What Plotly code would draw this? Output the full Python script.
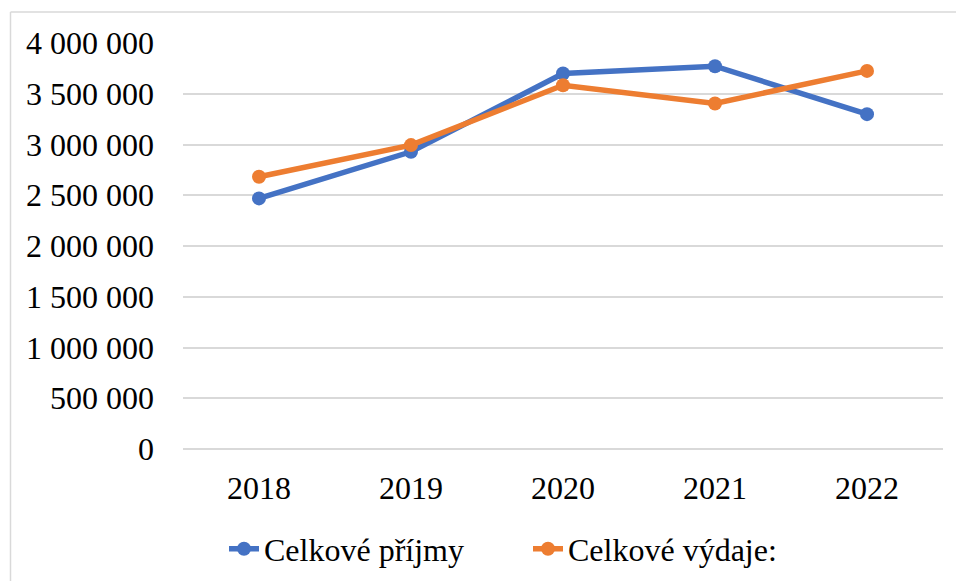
import plotly.graph_objects as go

years = ["2018", "2019", "2020", "2021", "2022"]
prijmy = [2469000, 2928000, 3699000, 3771000, 3299000]
vydaje = [2682000, 2994000, 3584000, 3404000, 3725000]
y_ticks = [0, 500000, 1000000, 1500000, 2000000, 2500000, 3000000, 3500000, 4000000]
y_labels = ["0", "500 000", "1 000 000", "1 500 000", "2 000 000", "2 500 000",
            "3 000 000", "3 500 000", "4 000 000"]

FONT = "Liberation Serif"

fig = go.Figure()
fig.add_trace(go.Scatter(x=years, y=prijmy, name="Celkové příjmy", mode="lines+markers",
                         line=dict(color="#4472C4", width=5.5),
                         marker=dict(size=14, color="#4472C4")))
fig.add_trace(go.Scatter(x=years, y=vydaje, name="Celkové výdaje:", mode="lines+markers",
                         line=dict(color="#ED7D31", width=5.5),
                         marker=dict(size=14, color="#ED7D31")))

fig.update_layout(
    width=956, height=581,
    margin=dict(l=183, r=13, t=43, b=132, autoexpand=False),
    paper_bgcolor="white", plot_bgcolor="white",
    font=dict(family=FONT, size=32, color="black"),
    xaxis=dict(type="category", range=[-0.5, 4.5], showgrid=False, zeroline=False,
               showline=False, ticks="", tickfont=dict(family=FONT, size=32),
               ticklabelstandoff=17),
    yaxis=dict(range=[0, 4000000], tickvals=y_ticks, ticktext=y_labels,
               showgrid=True, gridcolor="#D9D9D9", gridwidth=1.5,
               zeroline=True, zerolinecolor="#D9D9D9", zerolinewidth=1.5,
               showline=False, ticks="", tickfont=dict(family=FONT, size=32),
               ticklabelstandoff=28),
    legend=dict(orientation="h", xref="container", yref="container",
                x=224 / 956, xanchor="left",
                y=1 - 549 / 581, yanchor="middle",
                font=dict(family=FONT, size=32), itemwidth=30, tracegroupgap=0,
                entrywidth=259, entrywidthmode="pixels"),
    showlegend=True,
)

fig.add_shape(type="line", xref="paper", yref="paper",
              x0=(10.5 - 183) / 760, x1=(10.5 - 183) / 760,
              y0=1 + (43 - 12) / 406, y1=-0.4,
              line=dict(color="#D9D9D9", width=1.5))
fig.add_shape(type="line", xref="paper", yref="paper",
              x0=(10.5 - 183) / 760, x1=1.03,
              y0=1 + (43 - 12) / 406, y1=1 + (43 - 12) / 406,
              line=dict(color="#D9D9D9", width=1.5))

fig.write_html("out.html", config={"displayModeBar": False},
               post_script="document.body.style.margin='0';")
